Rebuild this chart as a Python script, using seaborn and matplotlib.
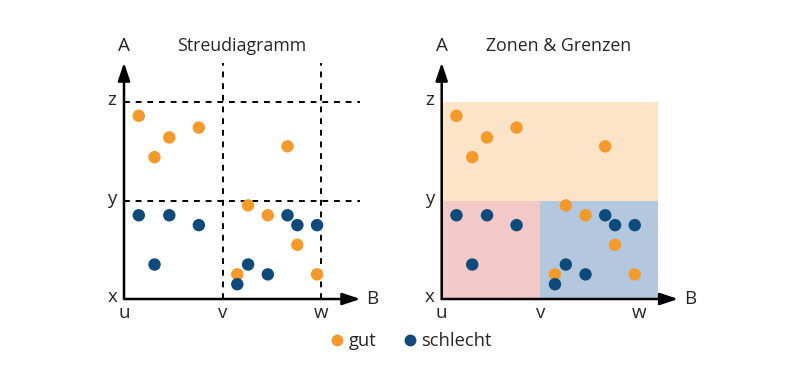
import numpy as np
import pandas as pd
import matplotlib
matplotlib.use('Agg')
import matplotlib.pyplot as plt
from matplotlib.lines import Line2D
from matplotlib.patches import Rectangle
import seaborn as sns

# Daten (Positionen in Einheiten der Achsen: u=0, v=1, w=2 / x=0, y=1, z=2)
gut_b = [0.15, 0.31, 0.46, 0.76, 1.66, 1.26, 1.46, 1.76, 1.15, 1.96]
gut_a = [1.86, 1.44, 1.64, 1.74, 1.55, 0.95, 0.85, 0.55, 0.25, 0.25]
schlecht_b = [0.15, 0.46, 0.76, 0.31, 1.66, 1.76, 1.96, 1.26, 1.46, 1.15]
schlecht_a = [0.85, 0.85, 0.75, 0.35, 0.85, 0.75, 0.75, 0.35, 0.25, 0.15]

b_grenzen = [0, 1, 2]          # u, v, w
b_labels = ['u', 'v', 'w']
a_grenzen = [0, 1, 2]          # x, y, z
a_labels = ['x', 'y', 'z']

col_gut = '#F39A2B'
col_schlecht = '#0E4A7B'
zone_gut = '#FDE3C8'
zone_rot = '#F3C9C8'
zone_blau = '#B3C8DE'

df = pd.DataFrame({
    'B': gut_b + schlecht_b,
    'A': gut_a + schlecht_a,
    'Klasse': ['gut'] * len(gut_b) + ['schlecht'] * len(schlecht_b),
})
palette = {'gut': col_gut, 'schlecht': col_schlecht}

sns.set_theme(style='white')
plt.rcParams['font.family'] = ['Open Sans', 'DejaVu Sans']

W, H = 800, 368
fig = plt.figure(figsize=(W / 100, H / 100), dpi=100)
scale = 98.5
xmin, xmax, ymin, ymax = -0.3, 2.6, -0.3, 2.75


def make_ax(origin_px):
    left = origin_px[0] - (-xmin) * scale
    bottom = H - (origin_px[1] + (-ymin) * scale)
    ax = fig.add_axes([left / W, bottom / H, (xmax - xmin) * scale / W,
                       (ymax - ymin) * scale / H])
    ax.set_xlim(xmin, xmax)
    ax.set_ylim(ymin, ymax)
    ax.axis('off')
    return ax


def draw_axes(ax, title):
    arrow = dict(arrowstyle='-|>,head_length=0.9,head_width=0.3', color='black',
                 lw=1.8, shrinkA=0, shrinkB=0)
    ax.annotate('', xy=(2.4, 0), xytext=(0, 0), arrowprops=arrow, zorder=5)
    ax.annotate('', xy=(0, 2.4), xytext=(0, 0), arrowprops=arrow, zorder=5)
    ax.text(0, 2.57, 'A', ha='center', va='center', fontsize=13.5)
    ax.text(2.52, 0, 'B', ha='center', va='center', fontsize=13.5)
    ax.text(1.19, 2.57, title, ha='center', va='center', fontsize=12.8)
    for val, lab in zip(a_grenzen, a_labels):
        ax.text(-0.12, val + 0.02, lab, ha='center', va='center', fontsize=13.5)
    for val, lab in zip(b_grenzen, b_labels):
        ax.text(val, -0.14, lab, ha='center', va='center', fontsize=13.5)


# Streudiagramm
ax1 = make_ax((124, 299))
for val in a_grenzen[1:]:
    ax1.plot([0, 2.4], [val, val], color='black', lw=1.4, ls=(0, (3, 3)), zorder=1)
for val in b_grenzen[1:]:
    ax1.plot([val, val], [0, 2.4], color='black', lw=1.4, ls=(0, (3, 3)), zorder=1)
sns.scatterplot(data=df, x='B', y='A', hue='Klasse', palette=palette, s=80,
                linewidth=0, legend=False, ax=ax1, zorder=3)
ax1.set_xlim(xmin, xmax)
ax1.set_ylim(ymin, ymax)
draw_axes(ax1, 'Streudiagramm')

# Zonen & Grenzen
ax2 = make_ax((441.7, 299))
ax2.add_patch(Rectangle((0, a_grenzen[1]), 2.2, a_grenzen[2] - a_grenzen[1],
                        facecolor=zone_gut, edgecolor='none', zorder=0))
ax2.add_patch(Rectangle((0, 0), b_grenzen[1], a_grenzen[1],
                        facecolor=zone_rot, edgecolor='none', zorder=0))
ax2.add_patch(Rectangle((b_grenzen[1], 0), 2.2 - b_grenzen[1], a_grenzen[1],
                        facecolor=zone_blau, edgecolor='none', zorder=0))
sns.scatterplot(data=df, x='B', y='A', hue='Klasse', palette=palette, s=80,
                linewidth=0, legend=False, ax=ax2, zorder=3)
ax2.set_xlim(xmin, xmax)
ax2.set_ylim(ymin, ymax)
draw_axes(ax2, 'Zonen & Grenzen')

handles = [Line2D([], [], marker='o', ls='', color=palette[k], markersize=7.5,
                  label=k) for k in ['gut', 'schlecht']]
fig.legend(handles=handles, loc='center', bbox_to_anchor=(410 / W, 1 - 341 / H),
           ncol=2, frameon=False, fontsize=13.2, handletextpad=0.15,
           columnspacing=1.3, handlelength=1.0)

fig.savefig('out.png', dpi=100)
